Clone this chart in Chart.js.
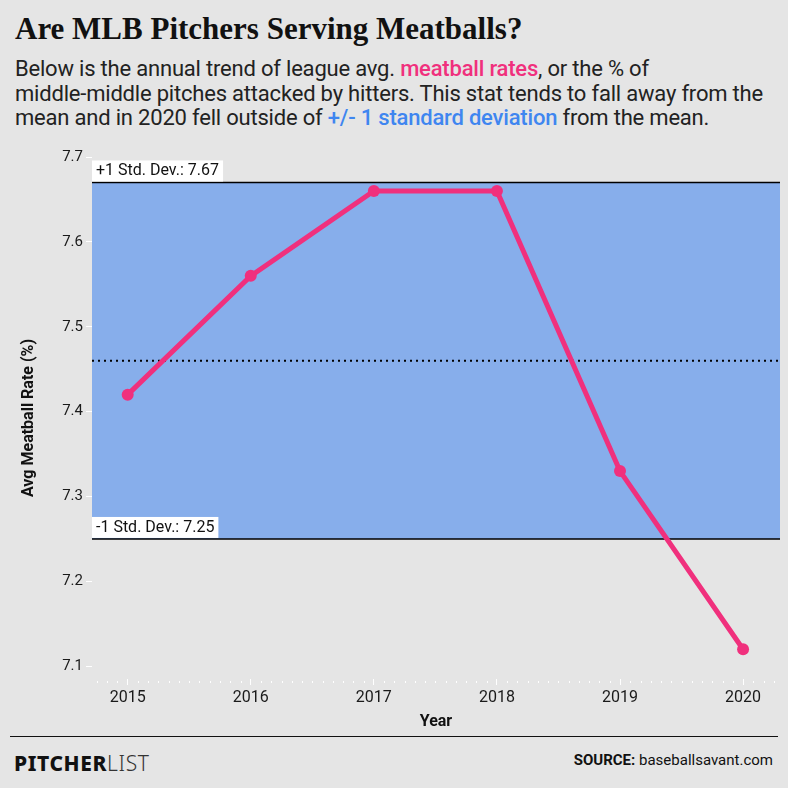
<!DOCTYPE html>
<html>
<head>
<meta charset="utf-8">
<script src="https://cdn.jsdelivr.net/npm/chart.js@4"></script>
<style>
  html, body { margin: 0; padding: 0; }
  body { width: 788px; height: 788px; background: #e5e5e5; position: relative; overflow: hidden; font-family: "Roboto", sans-serif; color: #1a1a1a; }
  #title { position: absolute; left: 15px; top: 11px; font-family: "Liberation Serif", serif; font-weight: bold; font-size: 31px; color: #111; white-space: nowrap; }
  #subtitle { position: absolute; left: 15px; top: 57px; font-size: 22px; line-height: 24.5px; color: #222; white-space: nowrap; letter-spacing: -0.2px; }
  #subtitle .pink { color: #f0307d; font-weight: 500; }
  #subtitle .blue { color: #3f86f0; font-weight: 500; }
  #wrap { position: absolute; left: 0; top: 140px; width: 788px; height: 592px; }
  #rule { position: absolute; left: 10px; top: 736px; width: 768px; height: 0; border-top: 1.5px solid #111; }
  #logo { position: absolute; left: 14px; top: 749px; font-family: "Noto Sans", sans-serif; font-size: 21px; letter-spacing: 0.6px; color: #111; }
  #logo b { font-weight: 800; }
  #logo span { font-weight: 300; color: #333; }
  #source { position: absolute; right: 15px; top: 751px; font-size: 15px; color: #111; }
  #source b { font-weight: 700; }
</style>
</head>
<body>
<div id="title">Are MLB Pitchers Serving Meatballs?</div>
<div id="subtitle">Below is the annual trend of league avg. <span class="pink">meatball rates</span>, or the % of<br>middle-middle pitches attacked by hitters. This stat tends to fall away from the<br>mean and in 2020 fell outside of <span class="blue">+/- 1 standard deviation</span> from the mean.</div>
<div id="wrap"><canvas id="chart"></canvas></div>
<div id="rule"></div>
<div id="logo"><b>PITCHER</b><span>LIST</span></div>
<div id="source"><b>SOURCE:</b> baseballsavant.com</div>
<script>
const years = [2015, 2016, 2017, 2018, 2019, 2020];
const meatballRates = [7.42, 7.56, 7.66, 7.66, 7.33, 7.12];
const yTicks = [7.1, 7.2, 7.3, 7.4, 7.5, 7.6, 7.7];
const upperDev = 7.67;
const lowerDev = 7.25;
const meanRate = 7.46;

const pink = '#f0307d';
const bandBlue = '#87aeeb';

// std dev band, mean line and labels
const bandPlugin = {
    id: 'band',
    beforeDatasetsDraw(chart) {
        const ctx = chart.ctx;
        const area = chart.chartArea;
        const y = chart.scales.y;
        const top = y.getPixelForValue(upperDev);
        const bottom = y.getPixelForValue(lowerDev);
        const mean = y.getPixelForValue(meanRate);

        ctx.save();
        ctx.fillStyle = bandBlue;
        ctx.fillRect(area.left, top, area.right - area.left, bottom - top);

        ctx.strokeStyle = '#000';
        ctx.lineWidth = 1.5;
        ctx.beginPath();
        ctx.moveTo(area.left, top); ctx.lineTo(area.right, top);
        ctx.moveTo(area.left, bottom); ctx.lineTo(area.right, bottom);
        ctx.stroke();

        ctx.setLineDash([2, 4]);
        ctx.lineWidth = 2;
        ctx.beginPath();
        ctx.moveTo(area.left, mean); ctx.lineTo(area.right, mean);
        ctx.stroke();
        ctx.setLineDash([]);

        ctx.font = '16px Roboto';
        ctx.textBaseline = 'middle';
        const labels = [['+1 Std. Dev.: ' + upperDev.toFixed(2), top], ['-1 Std. Dev.: ' + lowerDev.toFixed(2), bottom]];
        labels.forEach(([txt, py]) => {
            const w = ctx.measureText(txt).width + 8;
            ctx.fillStyle = '#fff';
            ctx.fillRect(area.left, py - 22, w, 21);
            ctx.fillStyle = '#111';
            ctx.fillText(txt, area.left + 4, py - 11);
        });
        ctx.restore();
    },
    afterDraw(chart) {
        // monthly minor ticks along the x axis
        const ctx = chart.ctx;
        const x = chart.scales.x;
        const area = chart.chartArea;
        ctx.save();
        ctx.strokeStyle = '#fff';
        ctx.lineWidth = 1;
        for (let m = 0; m < 12 * 8; m++) {
            const v = 2014 + m / 12;
            if (v < x.min || v > x.max || m % 12 === 0) continue;
            const px = Math.round(x.getPixelForValue(v)) + 0.5;
            ctx.beginPath();
            ctx.moveTo(px, area.bottom + 2);
            ctx.lineTo(px, area.bottom + 4);
            ctx.stroke();
        }
        ctx.restore();
    }
};

new Chart(document.getElementById('chart'), {
    type: 'line',
    data: {
        datasets: [{
            data: years.map((yr, i) => ({ x: yr, y: meatballRates[i] })),
            borderColor: pink,
            backgroundColor: pink,
            borderWidth: 5,
            pointRadius: 6,
            pointBorderWidth: 0,
            pointHoverRadius: 6,
            tension: 0
        }]
    },
    options: {
        responsive: true,
        maintainAspectRatio: false,
        animation: false,
        layout: { padding: { left: 19, right: 8, top: 17, bottom: 0 } },
        plugins: { legend: { display: false }, tooltip: { enabled: false } },
        scales: {
            x: {
                type: 'linear',
                min: 2014.71,
                max: 2020.3,
                afterBuildTicks: (scale) => { scale.ticks = years.map(v => ({ value: v })); },
                afterFit: (scale) => { scale.height = 53; },
                border: { display: false },
                grid: { drawOnChartArea: false, color: '#fff', tickLength: 6, lineWidth: 1 },
                ticks: { color: '#1a1a1a', font: { family: 'Roboto', size: 16 }, padding: 3, callback: v => String(v) },
                title: { display: true, text: 'Year', color: '#111', font: { family: 'Roboto', size: 16, weight: 'bold' }, padding: { top: 2, bottom: 0 } }
            },
            y: {
                min: 7.085,
                max: 7.7,
                afterBuildTicks: (scale) => { scale.ticks = yTicks.map(v => ({ value: v })); },
                afterFit: (scale) => { scale.width = 73; },
                border: { display: false },
                grid: { drawOnChartArea: false, color: '#fff', tickLength: 6, lineWidth: 1 },
                ticks: { color: '#1a1a1a', font: { family: 'Roboto', size: 15 }, padding: 3, callback: v => v.toFixed(1) },
                title: { display: true, text: 'Avg Meatball Rate (%)', color: '#111', font: { family: 'Roboto', size: 16, weight: 'bold' }, padding: { top: 0, bottom: 0 } }
            }
        }
    },
    plugins: [bandPlugin]
});
</script>
</body>
</html>
